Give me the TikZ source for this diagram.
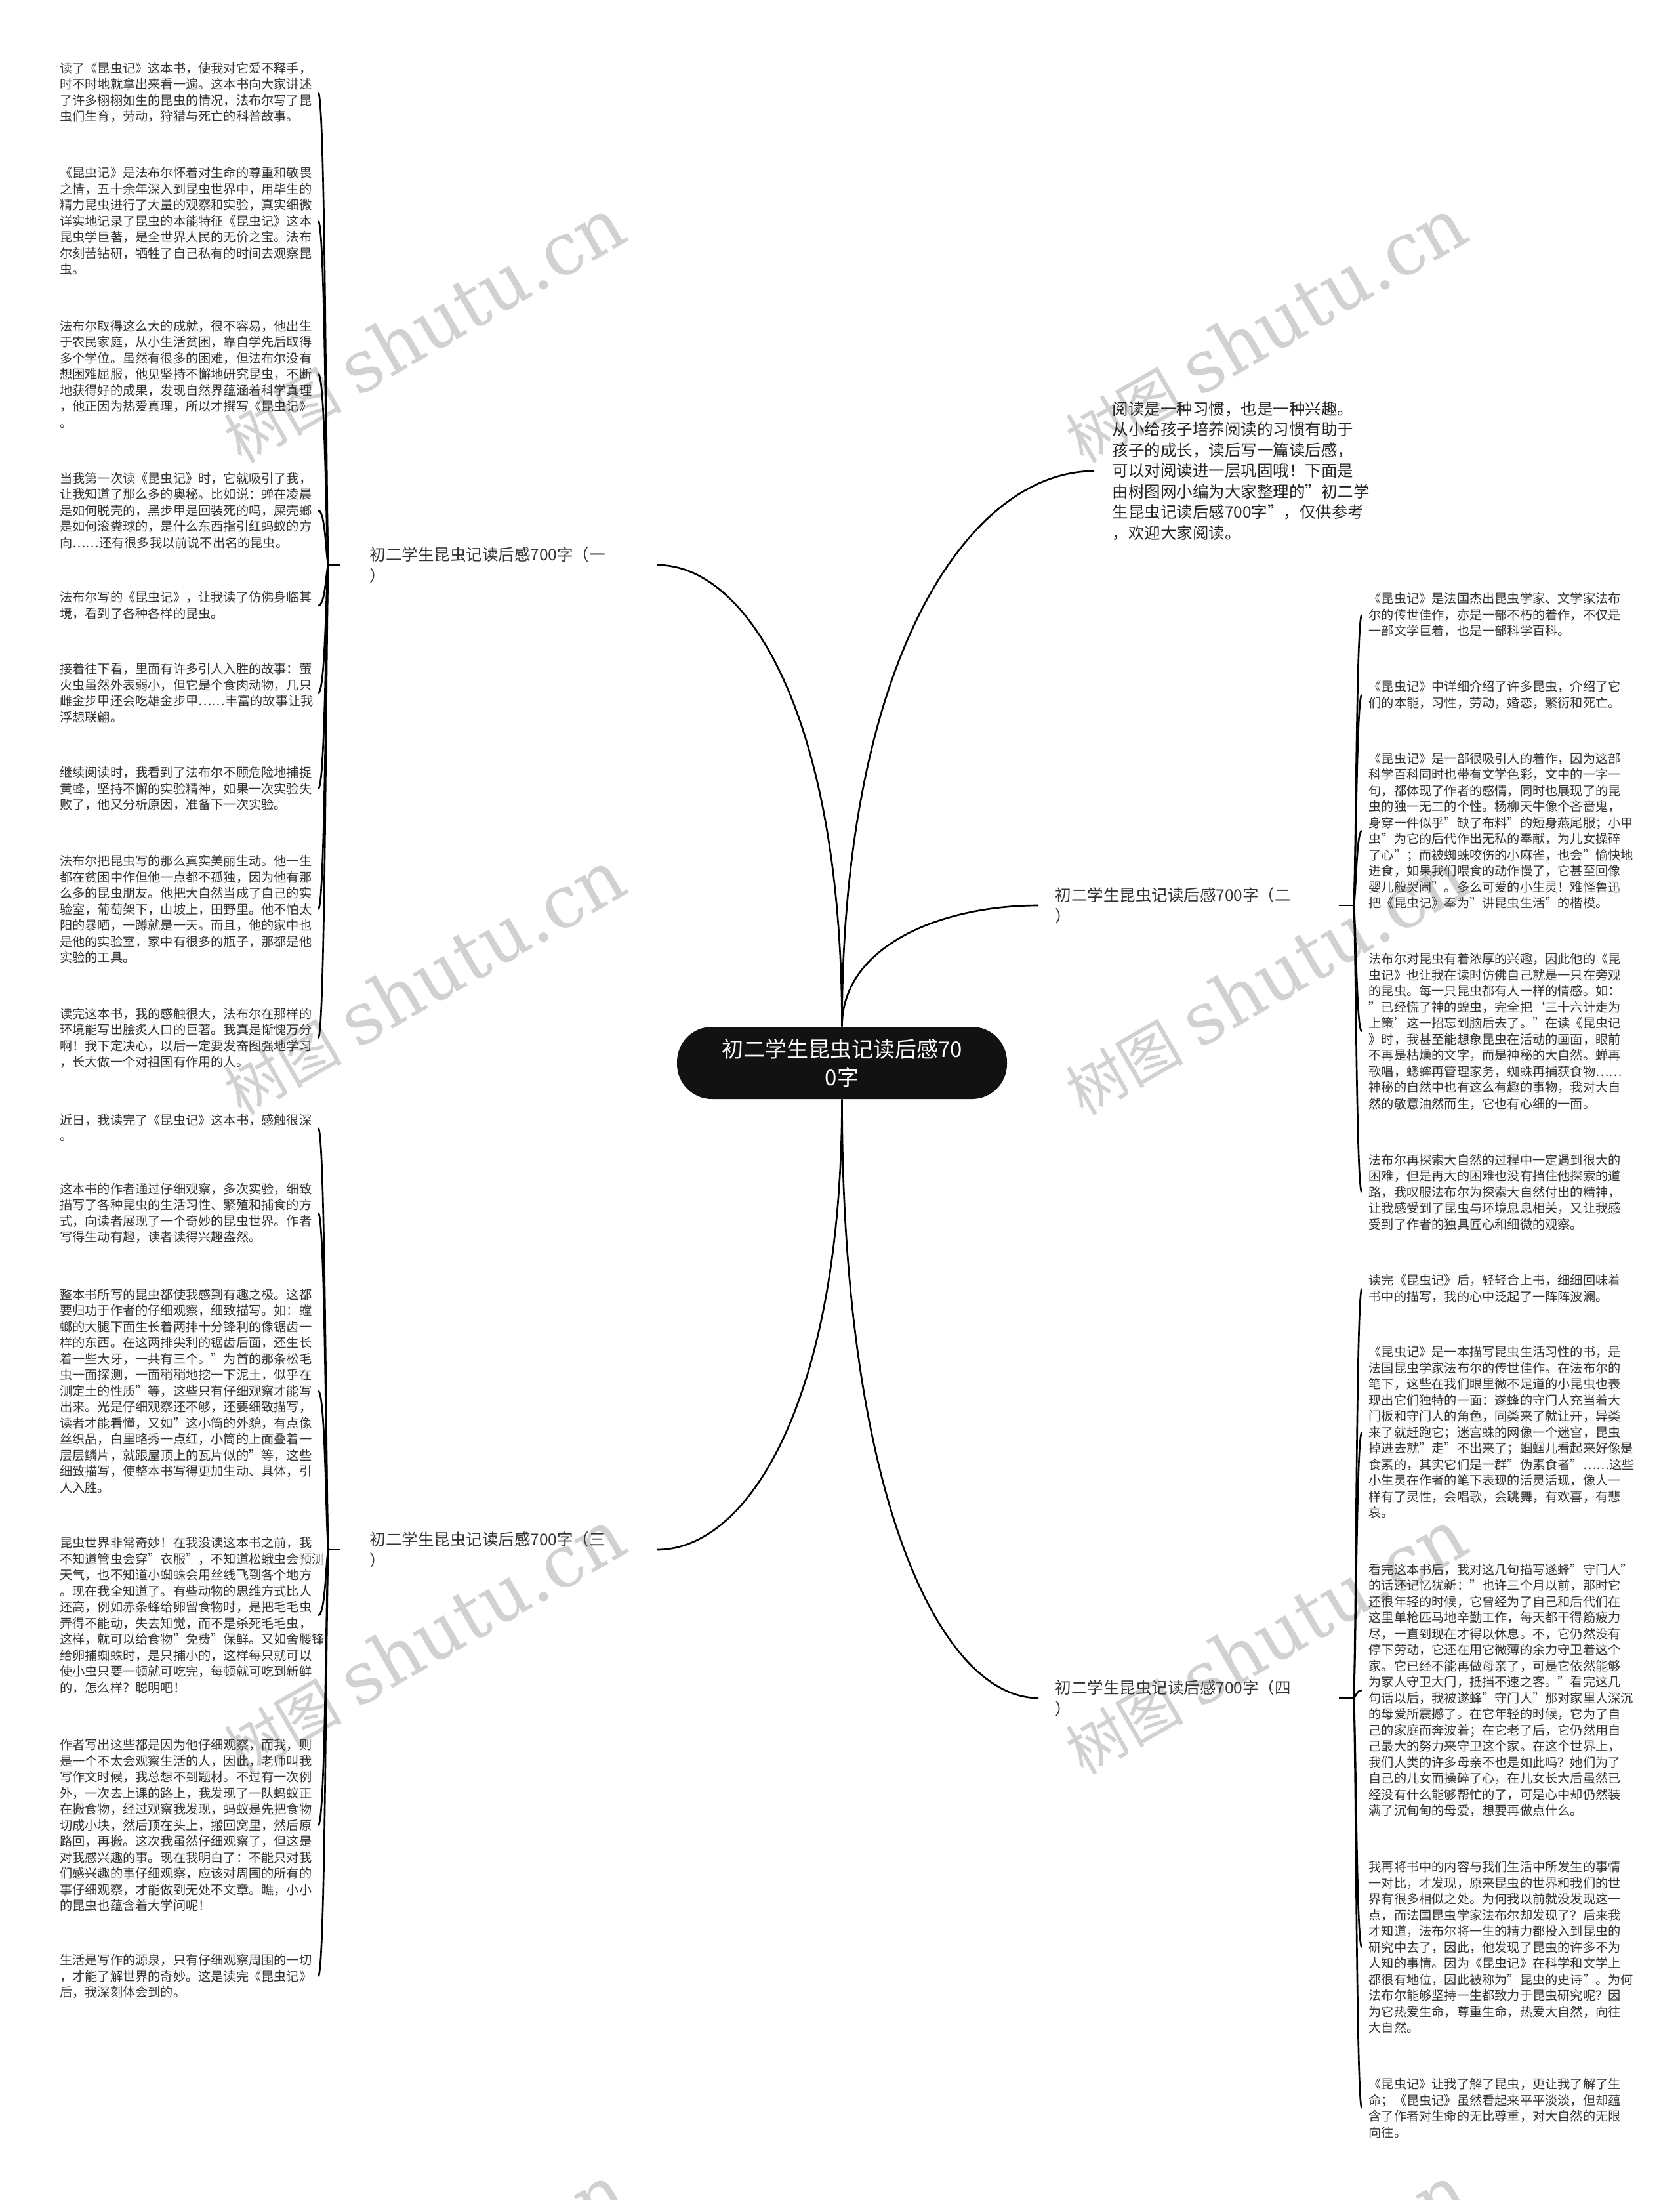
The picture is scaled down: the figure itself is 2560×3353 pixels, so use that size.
\documentclass[tikz,border=0pt]{standalone}
\usepackage{fontspec}
\setmainfont{Noto Sans CJK SC}
\newfontfamily\wmlatin{DejaVu Serif}
\newfontfamily\wmcjk{Noto Sans CJK SC}
\usetikzlibrary{calc}
\newcommand\lleaf[2]{\draw[conn] (#1) .. controls ($(#1)+(-4,0)$) and ($(#1|-#2.east)+(-4,0)$) .. (#2.east);}
\newcommand\rleaf[2]{\draw[conn] (#1) .. controls ($(#1)+(4,0)$) and ($(#1|-#2.west)+(4,0)$) .. (#2.west);}
\newcommand\wmark[2]{\node[wm] (#1) at (#2) {{\wmcjk\fontsize{27pt}{30pt}\selectfont 树图}\ {\wmlatin shutu.cn}};}
\begin{document}
\begin{tikzpicture}[x=0.3pt,y=-0.3pt,
  conn/.style={line width=0.8pt, black},
  leafL/.style={anchor=east, text width=115.2pt, align=left, inner xsep=2.7pt, inner ysep=0pt,
    font=\fontsize{5.76pt}{7.35pt}\selectfont, text=black!80},
  leafR/.style={leafL, anchor=west, inner xsep=3pt},
  branchL/.style={anchor=west, text width=117.9pt, align=left, inner xsep=13.2pt, inner ysep=0pt,
    font=\fontsize{7.35pt}{9.6pt}\selectfont, text=black!80},
  branchR/.style={branchL, text width=122.1pt, inner xsep=7.5pt},
  intro/.style={anchor=west, text width=114pt, align=left, inner xsep=8.1pt, inner ysep=0pt,
    font=\fontsize{7.35pt}{9.45pt}\selectfont, text=black!85},
  hub/.style={fill=black!93, text=white, rounded corners=16pt, minimum width=150.9pt,
    minimum height=33pt, align=center, inner sep=0pt, font=\fontsize{9.9pt}{12.9pt}\selectfont},
  wm/.style={rotate=30, text=black!18, font=\fontsize{33pt}{36pt}\selectfont, inner sep=0pt}
]
\useasboundingbox (0,0) rectangle (2560,3353);
\fill[white] (0,0) rectangle (2560,3353);
\begin{scope}
\clip (0,0) rectangle (2560,3353);
\wmark{w1}{646,503}
\wmark{w2}{1929,503}
\wmark{w3}{646,1497}
\wmark{w4}{1929,1497}
\wmark{w5}{646,2502}
\wmark{w6}{1929,2502}
\wmark{w7}{646,3501}
\wmark{w8}{1929,3501}
\end{scope}

% hub
\node[hub] (c) at (1283.5,1620) {初二学生昆虫记读后感70\\0字};

% intro
\node[intro] (intro) at (1668,718) {阅读是一种习惯，也是一种兴趣。\\从小给孩子培养阅读的习惯有助于\\孩子的成长，读后写一篇读后感，\\可以对阅读进一层巩固哦！下面是\\由树图网小编为大家整理的"初二学\\生昆虫记读后感700字"，仅供参考\\，欢迎大家阅读。};

% branches
\node[branchL] (b1) at (519,861) {初二学生昆虫记读后感700字（一\\）};
\node[branchR] (b2) at (1583,1380) {初二学生昆虫记读后感700字（二\\）};
\node[branchL] (b3) at (519,2362) {初二学生昆虫记读后感700字（三\\）};
\node[branchR] (b4) at (1583,2588) {初二学生昆虫记读后感700字（四\\）};

\coordinate (t1) at (501,861);
\coordinate (t2) at (2063,1380);
\coordinate (t3) at (501,2362);
\coordinate (t4) at (2063,2588);

% hub connectors
\draw[conn] (c.north) .. controls +(0,-465) and +(142,0) .. (b1.east);
\draw[conn] (c.north) .. controls +(0,-559) and +(-192,0) .. (intro.west);
\draw[conn] (c.north) .. controls +(0,-122) and +(-150,0) .. (b2.west);
\draw[conn] (c.south) .. controls +(0,453) and +(142,0) .. (b3.east);
\draw[conn] (c.south) .. controls +(0,603) and +(-150,0) .. (b4.west);

\draw[conn] (t1) -- (b1.west);
\draw[conn] (t3) -- (b3.west);
\draw[conn] (b2.east) -- (t2);
\draw[conn] (b4.east) -- (t4);

% branch 1 leaves
\node[leafL] (L1) at (485,141) {读了《昆虫记》这本书，使我对它爱不释手，\\时不时地就拿出来看一遍。这本书向大家讲述\\了许多栩栩如生的昆虫的情况，法布尔写了昆\\虫们生育，劳动，狩猎与死亡的科普故事。};
\node[leafL] (L2) at (485,337) {《昆虫记》是法布尔怀着对生命的尊重和敬畏\\之情，五十余年深入到昆虫世界中，用毕生的\\精力昆虫进行了大量的观察和实验，真实细微\\详实地记录了昆虫的本能特征《昆虫记》这本\\昆虫学巨著，是全世界人民的无价之宝。法布\\尔刻苦钻研，牺牲了自己私有的时间去观察昆\\虫。};
\node[leafL] (L3) at (485,570) {法布尔取得这么大的成就，很不容易，他出生\\于农民家庭，从小生活贫困，靠自学先后取得\\多个学位。虽然有很多的困难，但法布尔没有\\想困难屈服，他见坚持不懈地研究昆虫，不断\\地获得好的成果，发现自然界蕴涵着科学真理\\，他正因为热爱真理，所以才撰写《昆虫记》\\。};
\node[leafL] (L4) at (485,778) {当我第一次读《昆虫记》时，它就吸引了我，\\让我知道了那么多的奥秘。比如说：蝉在凌晨\\是如何脱壳的，黑步甲是回装死的吗，屎壳螂\\是如何滚粪球的，是什么东西指引红蚂蚁的方\\向……还有很多我以前说不出名的昆虫。};
\node[leafL] (L5) at (485,923) {法布尔写的《昆虫记》，让我读了仿佛身临其\\境，看到了各种各样的昆虫。};
\node[leafL] (L6) at (485,1056) {接着往下看，里面有许多引人入胜的故事：萤\\火虫虽然外表弱小，但它是个食肉动物，几只\\雌金步甲还会吃雄金步甲……丰富的故事让我\\浮想联翩。};
\node[leafL] (L7) at (485,1202) {继续阅读时，我看到了法布尔不顾危险地捕捉\\黄蜂，坚持不懈的实验精神，如果一次实验失\\败了，他又分析原因，准备下一次实验。};
\node[leafL] (L8) at (485,1386) {法布尔把昆虫写的那么真实美丽生动。他一生\\都在贫困中作但他一点都不孤独，因为他有那\\么多的昆虫朋友。他把大自然当成了自己的实\\验室，葡萄架下，山坡上，田野里。他不怕太\\阳的暴晒，一蹲就是一天。而且，他的家中也\\是他的实验室，家中有很多的瓶子，那都是他\\实验的工具。};
\node[leafL] (L9) at (485,1582) {读完这本书，我的感触很大，法布尔在那样的\\环境能写出脍炙人口的巨著。我真是惭愧万分\\啊！我下定决心，以后一定要发奋图强地学习\\，长大做一个对祖国有作用的人。};

% branch 3 leaves
\node[leafL] (L10) at (485,1719) {近日，我读完了《昆虫记》这本书，感触很深\\。};
\node[leafL] (L11) at (485,1849) {这本书的作者通过仔细观察，多次实验，细致\\描写了各种昆虫的生活习性、繁殖和捕食的方\\式，向读者展现了一个奇妙的昆虫世界。作者\\写得生动有趣，读者读得兴趣盎然。};
\node[leafL] (L12) at (485,2120) {整本书所写的昆虫都使我感到有趣之极。这都\\要归功于作者的仔细观察，细致描写。如：螳\\螂的大腿下面生长着两排十分锋利的像锯齿一\\样的东西。在这两排尖利的锯齿后面，还生长\\着一些大牙，一共有三个。"为首的那条松毛\\虫一面探测，一面稍稍地挖一下泥土，似乎在\\测定土的性质"等，这些只有仔细观察才能写\\出来。光是仔细观察还不够，还要细致描写，\\读者才能看懂，又如"这小筒的外貌，有点像\\丝织品，白里略秀一点红，小筒的上面叠着一\\层层鳞片，就跟屋顶上的瓦片似的"等，这些\\细致描写，使整本书写得更加生动、具体，引\\人入胜。};
\node[leafL] (L13) at (485,2462) {昆虫世界非常奇妙！在我没读这本书之前，我\\不知道管虫会穿"衣服"，不知道松蛾虫会预测\\天气，也不知道小蜘蛛会用丝线飞到各个地方\\。现在我全知道了。有些动物的思维方式比人\\还高，例如赤条蜂给卵留食物时，是把毛毛虫\\弄得不能动，失去知觉，而不是杀死毛毛虫，\\这样，就可以给食物"免费"保鲜。又如舍腰锋\\给卵捕蜘蛛时，是只捕小的，这样每只就可以\\使小虫只要一顿就可吃完，每顿就可吃到新鲜\\的，怎么样？聪明吧！};
\node[leafL] (L14) at (485,2782) {作者写出这些都是因为他仔细观察，而我，则\\是一个不太会观察生活的人，因此，老师叫我\\写作文时候，我总想不到题材。不过有一次例\\外，一次去上课的路上，我发现了一队蚂蚁正\\在搬食物，经过观察我发现，蚂蚁是先把食物\\切成小块，然后顶在头上，搬回窝里，然后原\\路回，再搬。这次我虽然仔细观察了，但这是\\对我感兴趣的事。现在我明白了：不能只对我\\们感兴趣的事仔细观察，应该对周围的所有的\\事仔细观察，才能做到无处不文章。瞧，小小\\的昆虫也蕴含着大学问呢！};
\node[leafL] (L15) at (485,3012) {生活是写作的源泉，只有仔细观察周围的一切\\，才能了解世界的奇妙。这是读完《昆虫记》\\后，我深刻体会到的。};

% branch 2 leaves
\node[leafR] (R1) at (2076,937) {《昆虫记》是法国杰出昆虫学家、文学家法布\\尔的传世佳作，亦是一部不朽的着作，不仅是\\一部文学巨着，也是一部科学百科。};
\node[leafR] (R2) at (2076,1059) {《昆虫记》中详细介绍了许多昆虫，介绍了它\\们的本能，习性，劳动，婚恋，繁衍和死亡。};
\node[leafR] (R3) at (2076,1266) {《昆虫记》是一部很吸引人的着作，因为这部\\科学百科同时也带有文学色彩，文中的一字一\\句，都体现了作者的感情，同时也展现了的昆\\虫的独一无二的个性。杨柳天牛像个吝啬鬼，\\身穿一件似乎"缺了布料"的短身燕尾服；小甲\\虫"为它的后代作出无私的奉献，为儿女操碎\\了心"；而被蜘蛛咬伤的小麻雀，也会"愉快地\\进食，如果我们喂食的动作慢了，它甚至回像\\婴儿般哭闹"。多么可爱的小生灵！难怪鲁迅\\把《昆虫记》奉为"讲昆虫生活"的楷模。};
\node[leafR] (R4) at (2076,1572) {法布尔对昆虫有着浓厚的兴趣，因此他的《昆\\虫记》也让我在读时仿佛自己就是一只在旁观\\的昆虫。每一只昆虫都有人一样的情感。如：\\"已经慌了神的蝗虫，完全把‘三十六计走为\\上策’这一招忘到脑后去了。"在读《昆虫记\\》时，我甚至能想象昆虫在活动的画面，眼前\\不再是枯燥的文字，而是神秘的大自然。蝉再\\歌唱，蟋蟀再管理家务，蜘蛛再捕获食物……\\神秘的自然中也有这么有趣的事物，我对大自\\然的敬意油然而生，它也有心细的一面。};
\node[leafR] (R5) at (2076,1817) {法布尔再探索大自然的过程中一定遇到很大的\\困难，但是再大的困难也没有挡住他探索的道\\路，我叹服法布尔为探索大自然付出的精神，\\让我感受到了昆虫与环境息息相关，又让我感\\受到了作者的独具匠心和细微的观察。};

% branch 4 leaves
\node[leafR] (R6) at (2076,1964) {读完《昆虫记》后，轻轻合上书，细细回味着\\书中的描写，我的心中泛起了一阵阵波澜。};
\node[leafR] (R7) at (2076,2183) {《昆虫记》是一本描写昆虫生活习性的书，是\\法国昆虫学家法布尔的传世佳作。在法布尔的\\笔下，这些在我们眼里微不足道的小昆虫也表\\现出它们独特的一面：遂蜂的守门人充当着大\\门板和守门人的角色，同类来了就让开，异类\\来了就赶跑它；迷宫蛛的网像一个迷宫，昆虫\\掉进去就"走"不出来了；蝈蝈儿看起来好像是\\食素的，其实它们是一群"伪素食者"……这些\\小生灵在作者的笔下表现的活灵活现，像人一\\样有了灵性，会唱歌，会跳舞，有欢喜，有悲\\哀。};
\node[leafR] (R8) at (2076,2576) {看完这本书后，我对这几句描写遂蜂"守门人"\\的话还记忆犹新："也许三个月以前，那时它\\还很年轻的时候，它曾经为了自己和后代们在\\这里单枪匹马地辛勤工作，每天都干得筋疲力\\尽，一直到现在才得以休息。不，它仍然没有\\停下劳动，它还在用它微薄的余力守卫着这个\\家。它已经不能再做母亲了，可是它依然能够\\为家人守卫大门，抵挡不速之客。"看完这几\\句话以后，我被遂蜂"守门人"那对家里人深沉\\的母爱所震撼了。在它年轻的时候，它为了自\\己的家庭而奔波着；在它老了后，它仍然用自\\己最大的努力来守卫这个家。在这个世界上，\\我们人类的许多母亲不也是如此吗？她们为了\\自己的儿女而操碎了心，在儿女长大后虽然已\\经没有什么能够帮忙的了，可是心中却仍然装\\满了沉甸甸的母爱，想要再做点什么。};
\node[leafR] (R9) at (2076,2968) {我再将书中的内容与我们生活中所发生的事情\\一对比，才发现，原来昆虫的世界和我们的世\\界有很多相似之处。为何我以前就没发现这一\\点，而法国昆虫学家法布尔却发现了？后来我\\才知道，法布尔将一生的精力都投入到昆虫的\\研究中去了，因此，他发现了昆虫的许多不为\\人知的事情。因为《昆虫记》在科学和文学上\\都很有地位，因此被称为"昆虫的史诗"。为何\\法布尔能够坚持一生都致力于昆虫研究呢？因\\为它热爱生命，尊重生命，热爱大自然，向往\\大自然。};
\node[leafR] (R10) at (2076,3213) {《昆虫记》让我了解了昆虫，更让我了解了生\\命；《昆虫记》虽然看起来平平淡淡，但却蕴\\含了作者对生命的无比尊重，对大自然的无限\\向往。};

% leaf connectors
\lleaf{t1}{L1}\lleaf{t1}{L2}\lleaf{t1}{L3}\lleaf{t1}{L4}\lleaf{t1}{L5}
\lleaf{t1}{L6}\lleaf{t1}{L7}\lleaf{t1}{L8}\lleaf{t1}{L9}
\lleaf{t3}{L10}\lleaf{t3}{L11}\lleaf{t3}{L12}\lleaf{t3}{L13}\lleaf{t3}{L14}\lleaf{t3}{L15}
\rleaf{t2}{R1}\rleaf{t2}{R2}\rleaf{t2}{R3}\rleaf{t2}{R4}\rleaf{t2}{R5}
\rleaf{t4}{R6}\rleaf{t4}{R7}\rleaf{t4}{R8}\rleaf{t4}{R9}\rleaf{t4}{R10}
\end{tikzpicture}
\end{document}
